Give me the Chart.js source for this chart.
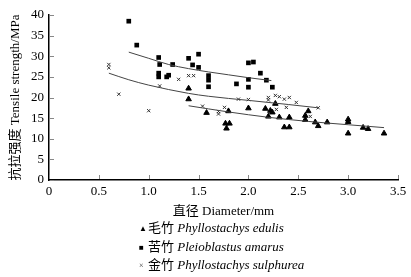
<!DOCTYPE html>
<html>
<head>
<meta charset="utf-8">
<script src="https://cdn.jsdelivr.net/npm/chart.js@4"></script>
<style>
  body { margin: 0; background: #fff; }
  #wrap { position: relative; width: 411px; height: 277px; }
  #legend { position: absolute; left: 139px; top: 219px; font: 13px "Liberation Serif", "Noto Sans CJK SC", serif; color: #000; }
  #legend div { height: 18.5px; line-height: 18.5px; white-space: nowrap; }
  #legend .m { display: inline-block; width: 9px; font-size: 8px; vertical-align: 1px; }
  #legend i { font-style: italic; }
</style>
</head>
<body>
<div id="wrap">
  <canvas id="myChart" width="411" height="277"></canvas>
  <div id="legend">
    <div><span class="m">▲</span>毛竹 <i>Phyllostachys edulis</i></div>
    <div><span class="m">■</span>苦竹 <i>Pleioblastus amarus</i></div>
    <div><span class="m" style="color:#333">×</span>金竹 <i>Phyllostachys sulphurea</i></div>
  </div>
</div>
<script>
// 毛竹 Phyllostachys edulis
var edulisX = [1.40, 1.40, 1.58, 1.80, 1.77, 1.81, 1.78, 2.00, 2.17, 2.22, 2.24, 2.27, 2.20, 2.31, 2.41, 2.36, 2.41, 2.60, 2.57, 2.57, 2.67, 2.70, 2.79, 3.00, 3.00, 3.00, 3.15, 3.20, 3.36];
var edulisY = [22.2, 19.6, 16.3, 16.7, 13.7, 13.7, 12.5, 17.4, 17.3, 16.8, 16.4, 18.5, 15.4, 15.2, 15.2, 12.8, 12.8, 16.7, 15.6, 14.6, 14.0, 13.1, 14.0, 14.7, 14.1, 11.3, 12.7, 12.4, 11.3];
// 苦竹 Pleioblastus amarus
var amarusX = [0.80, 0.88, 1.10, 1.11, 1.10, 1.10, 1.18, 1.20, 1.24, 1.40, 1.50, 1.44, 1.50, 1.60, 1.60, 1.60, 1.88, 2.00, 2.05, 2.12, 2.00, 2.18, 2.00, 2.24];
var amarusY = [38.5, 32.7, 29.7, 28.0, 25.9, 25.0, 25.0, 25.4, 28.0, 29.5, 30.5, 27.9, 27.3, 25.3, 24.2, 22.6, 23.3, 28.4, 28.6, 25.9, 24.4, 24.2, 22.5, 22.5];
// 金竹 Phyllostachys sulphurea
var sulphureaX = [0.60, 0.60, 0.70, 1.00, 1.11, 1.30, 1.40, 1.45, 1.54, 1.70, 1.70, 1.76, 1.90, 2.00, 2.20, 2.20, 2.27, 2.31, 2.36, 2.41, 2.48, 2.28, 2.38, 2.62, 2.70];
var sulphureaY = [28.0, 27.2, 20.8, 16.8, 22.8, 24.4, 25.3, 25.3, 17.9, 16.6, 16.0, 17.6, 19.6, 19.5, 20.0, 19.4, 20.5, 20.2, 19.6, 20.0, 18.8, 17.1, 17.6, 15.4, 17.5];

// trend lines
var edulisFitX = [1.4, 1.8, 2.2, 2.6, 3.0, 3.36];
var edulisFitY = [18.0, 16.5, 15.2, 14.2, 13.4, 12.7];
var amarusFitX = [0.8, 1.0, 1.2, 1.4, 1.6, 1.8, 2.0, 2.23];
var amarusFitY = [31.0, 29.5, 28.0, 27.0, 26.2, 25.5, 24.8, 24.1];
var sulphureaFitX = [0.6, 0.8, 1.0, 1.4, 1.6, 2.0, 2.4, 2.7];
var sulphureaFitY = [25.9, 24.3, 23.0, 21.0, 20.3, 19.3, 18.3, 17.5];

var xTicks = ['0', '0.5', '1.0', '1.5', '2.0', '2.5', '3.0', '3.5'];
var yTicks = [0, 5, 10, 15, 20, 25, 30, 35, 40];

function pts(xs, ys) {
  return xs.map(function (v, i) { return { x: v, y: ys[i] }; });
}

var serif = '"Liberation Serif", "Noto Sans CJK SC", serif';

// small ticks pointing into the plot
var innerTicks = {
  id: 'innerTicks',
  afterDraw: function (chart) {
    var ctx = chart.ctx, a = chart.chartArea;
    var xs = chart.scales.x, ys = chart.scales.y;
    ctx.save();
    ctx.strokeStyle = '#888';
    ctx.lineWidth = 1;
    ctx.beginPath();
    xTicks.forEach(function (t) {
      var p = Math.round(xs.getPixelForValue(parseFloat(t))) + 0.5;
      ctx.moveTo(p, a.bottom - 1);
      ctx.lineTo(p, a.bottom - 5);
    });
    yTicks.forEach(function (t) {
      var p = Math.round(ys.getPixelForValue(t)) + 0.5;
      ctx.moveTo(a.left + 1, p);
      ctx.lineTo(a.left + 5, p);
    });
    ctx.stroke();
    ctx.restore();
  }
};

var fitLine = { borderColor: '#444', borderWidth: 1, pointRadius: 0, showLine: true, fill: false, cubicInterpolationMode: 'monotone' };

var ctx = document.getElementById('myChart').getContext('2d');
var chart = new Chart(ctx, {
  type: 'scatter',
  data: {
    datasets: [
      Object.assign({ data: pts(edulisFitX, edulisFitY) }, fitLine),
      Object.assign({ data: pts(amarusFitX, amarusFitY) }, fitLine),
      Object.assign({ data: pts(sulphureaFitX, sulphureaFitY) }, fitLine),
      {
        label: '毛竹 Phyllostachys edulis',
        data: pts(edulisX, edulisY),
        pointStyle: 'triangle', pointRadius: 3.2,
        backgroundColor: '#000', borderColor: '#000', borderWidth: 1
      },
      {
        label: '苦竹 Pleioblastus amarus',
        data: pts(amarusX, amarusY),
        pointStyle: 'rect', pointRadius: 3.3,
        backgroundColor: '#000', borderColor: '#000', borderWidth: 0
      },
      {
        label: '金竹 Phyllostachys sulphurea',
        data: pts(sulphureaX, sulphureaY),
        pointStyle: 'crossRot', pointRadius: 2.3,
        backgroundColor: '#333', borderColor: '#333', borderWidth: 1
      }
    ]
  },
  options: {
    responsive: false,
    animation: false,
    layout: { padding: { top: 15, right: 13, bottom: 58, left: 0 } },
    plugins: { legend: { display: false }, tooltip: { enabled: false } },
    scales: {
      x: {
        type: 'linear', min: 0, max: 3.5,
        afterFit: function (s) { s.height = 39; },
        afterBuildTicks: function (s) { s.ticks = xTicks.map(function (t) { return { value: parseFloat(t) }; }); },
        border: { color: '#000', width: 1.5 },
        grid: { display: false, drawTicks: false },
        ticks: {
          color: '#000', padding: 4, maxRotation: 0, autoSkip: false,
          font: { family: serif, size: 13 },
          callback: function (v, i) { return xTicks[i]; }
        },
        title: { display: true, text: '直径 Diameter/mm', color: '#000', font: { family: serif, size: 13 }, padding: { top: 2, bottom: 0 } }
      },
      y: {
        type: 'linear', min: 0, max: 40,
        afterFit: function (s) { s.width = 49; },
        afterBuildTicks: function (s) { s.ticks = yTicks.map(function (t) { return { value: t }; }); },
        border: { color: '#000', width: 1.5 },
        grid: { display: false, drawTicks: false },
        ticks: { color: '#000', padding: 5, autoSkip: false, font: { family: serif, size: 13 } },
        title: { display: true, text: '抗拉强度 Tensile strength/MPa', color: '#000', font: { family: serif, size: 13 }, padding: { top: 8, bottom: 0 } }
      }
    }
  },
  plugins: [innerTicks]
});
</script>
</body>
</html>
